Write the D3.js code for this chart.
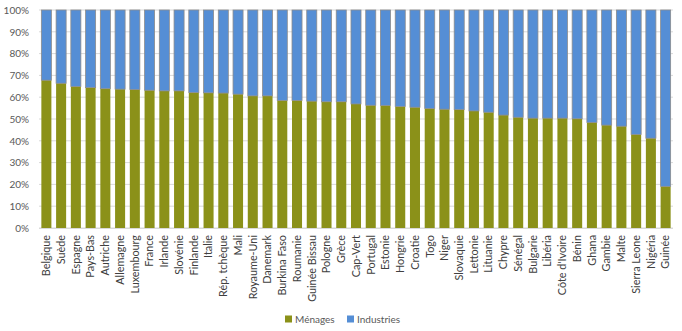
<!DOCTYPE html>
<html>
<head>
<meta charset="utf-8">
<script src="https://cdn.jsdelivr.net/npm/d3@7"></script>
<style>
  html, body { margin: 0; padding: 0; background: #fff; }
  svg { display: block; font-family: Lato, "Open Sans", sans-serif; }
</style>
</head>
<body>
<svg id="chart" width="682" height="331"></svg>
<script>
// Share of consumption by sector, per country (percent)
const countries = ["Belgique","Suède","Espagne","Pays-Bas","Autriche","Allemagne","Luxembourg","France","Irlande","Slovénie","Finlande","Italie","Rép. tchèque","Mali","Royaume-Uni","Danemark","Burkina Faso","Roumanie","Guinée Bissau","Pologne","Grèce","Cap-Vert","Portugal","Estonie","Hongrie","Croatie","Togo","Niger","Slovaquie","Lettonie","Lituanie","Chypre","Sénégal","Bulgarie","Libéria","Côte d'Ivoire","Bénin","Ghana","Gambie","Malte","Sierra Leone","Nigéria","Guinée"];
const menages = [67.8,66.4,64.9,64.4,63.9,63.7,63.5,63.2,62.9,62.9,62.1,62.0,61.9,61.4,60.6,60.6,58.5,58.5,58.2,57.9,57.9,56.9,56.3,56.2,55.7,55.4,54.8,54.5,54.3,53.7,53.1,51.8,50.8,50.4,50.4,50.4,50.1,48.4,47.2,46.7,42.9,41.2,19.1];
const industries = menages.map(v => 100 - v);
const seriesNames = ["Ménages", "Industries"];
const seriesColors = ["#8b9119", "#558ed5"];
const yTicks = [0,10,20,30,40,50,60,70,80,90,100];

const rows = countries.map((c, i) => ({ country: c, "Ménages": menages[i], "Industries": industries[i] }));
const stacked = d3.stack().keys(seriesNames)(rows);

const svg = d3.select("#chart");
const margin = { left: 39, right: 9, top: 10, bottom: 103 };
const W = 682, H = 331;

const x = d3.scaleBand()
  .domain(countries)
  .range([margin.left, W - margin.right])
  .paddingInner(0.32)
  .paddingOuter(0.16);
const y = d3.scaleLinear().domain([0, 100]).range([H - margin.bottom, margin.top]);

// gridlines
svg.append("g")
  .selectAll("line")
  .data(yTicks)
  .join("line")
  .attr("x1", margin.left).attr("x2", W - margin.right)
  .attr("y1", d => y(d)).attr("y2", d => y(d))
  .attr("stroke", "#d9d9d9").attr("stroke-width", 1);

// y axis labels
const yAxis = d3.axisLeft(y).tickValues(yTicks).tickFormat(d => d + "%").tickSize(0).tickPadding(10);
svg.append("g")
  .attr("transform", `translate(${margin.left},0)`)
  .call(yAxis)
  .call(g => g.select(".domain").remove())
  .call(g => g.selectAll("text").attr("fill", "#595959").attr("font-size", 10).attr("font-family", "Lato, 'Open Sans', sans-serif"));

// bars
svg.append("g")
  .selectAll("g")
  .data(stacked)
  .join("g")
  .attr("fill", (d, i) => seriesColors[i])
  .each(function(s, si) {
    d3.select(this).selectAll("rect")
      .data(s)
      .join("rect")
      .attr("x", d => x(d.data.country))
      .attr("width", x.bandwidth())
      .attr("y", d => y(d[1]))
      .attr("height", d => y(d[0]) - y(d[1]))
      .attr("stroke", si === 1 ? "#8c8c8c" : "none")
      .attr("stroke-width", si === 1 ? 0.8 : 0);
  });

// bottom axis line
svg.append("line")
  .attr("x1", margin.left).attr("x2", W - margin.right)
  .attr("y1", y(0) + 0.5).attr("y2", y(0) + 0.5)
  .attr("stroke", "#d9d9d9");

// category labels, rotated
const xAxis = d3.axisBottom(x).tickSize(0).tickPadding(0);
svg.append("g")
  .attr("transform", `translate(0,${y(0)})`)
  .call(xAxis)
  .call(g => g.select(".domain").remove())
  .call(g => g.selectAll("text")
    .attr("fill", "#404040")
    .attr("font-size", 10.8)
    .attr("font-family", "Lato, 'Open Sans', sans-serif")
    .attr("text-anchor", "end")
    .attr("dy", "0.35em")
    .attr("transform", "translate(0,7) rotate(-90)")
    .attr("x", 0).attr("y", 0));

// legend
const legend = svg.append("g").attr("transform", "translate(285,319)");
const items = [{ name: seriesNames[0], color: seriesColors[0], dx: 0 }, { name: seriesNames[1], color: seriesColors[1], dx: 62 }];
items.forEach(it => {
  const g = legend.append("g").attr("transform", `translate(${it.dx},0)`);
  g.append("rect").attr("x", 0).attr("y", -3.5).attr("width", 7).attr("height", 7).attr("fill", it.color);
  g.append("text").attr("x", 10).attr("y", 0).attr("dy", "0.35em")
    .attr("font-size", 10).attr("fill", "#595959").text(it.name);
});
</script>
</body>
</html>
